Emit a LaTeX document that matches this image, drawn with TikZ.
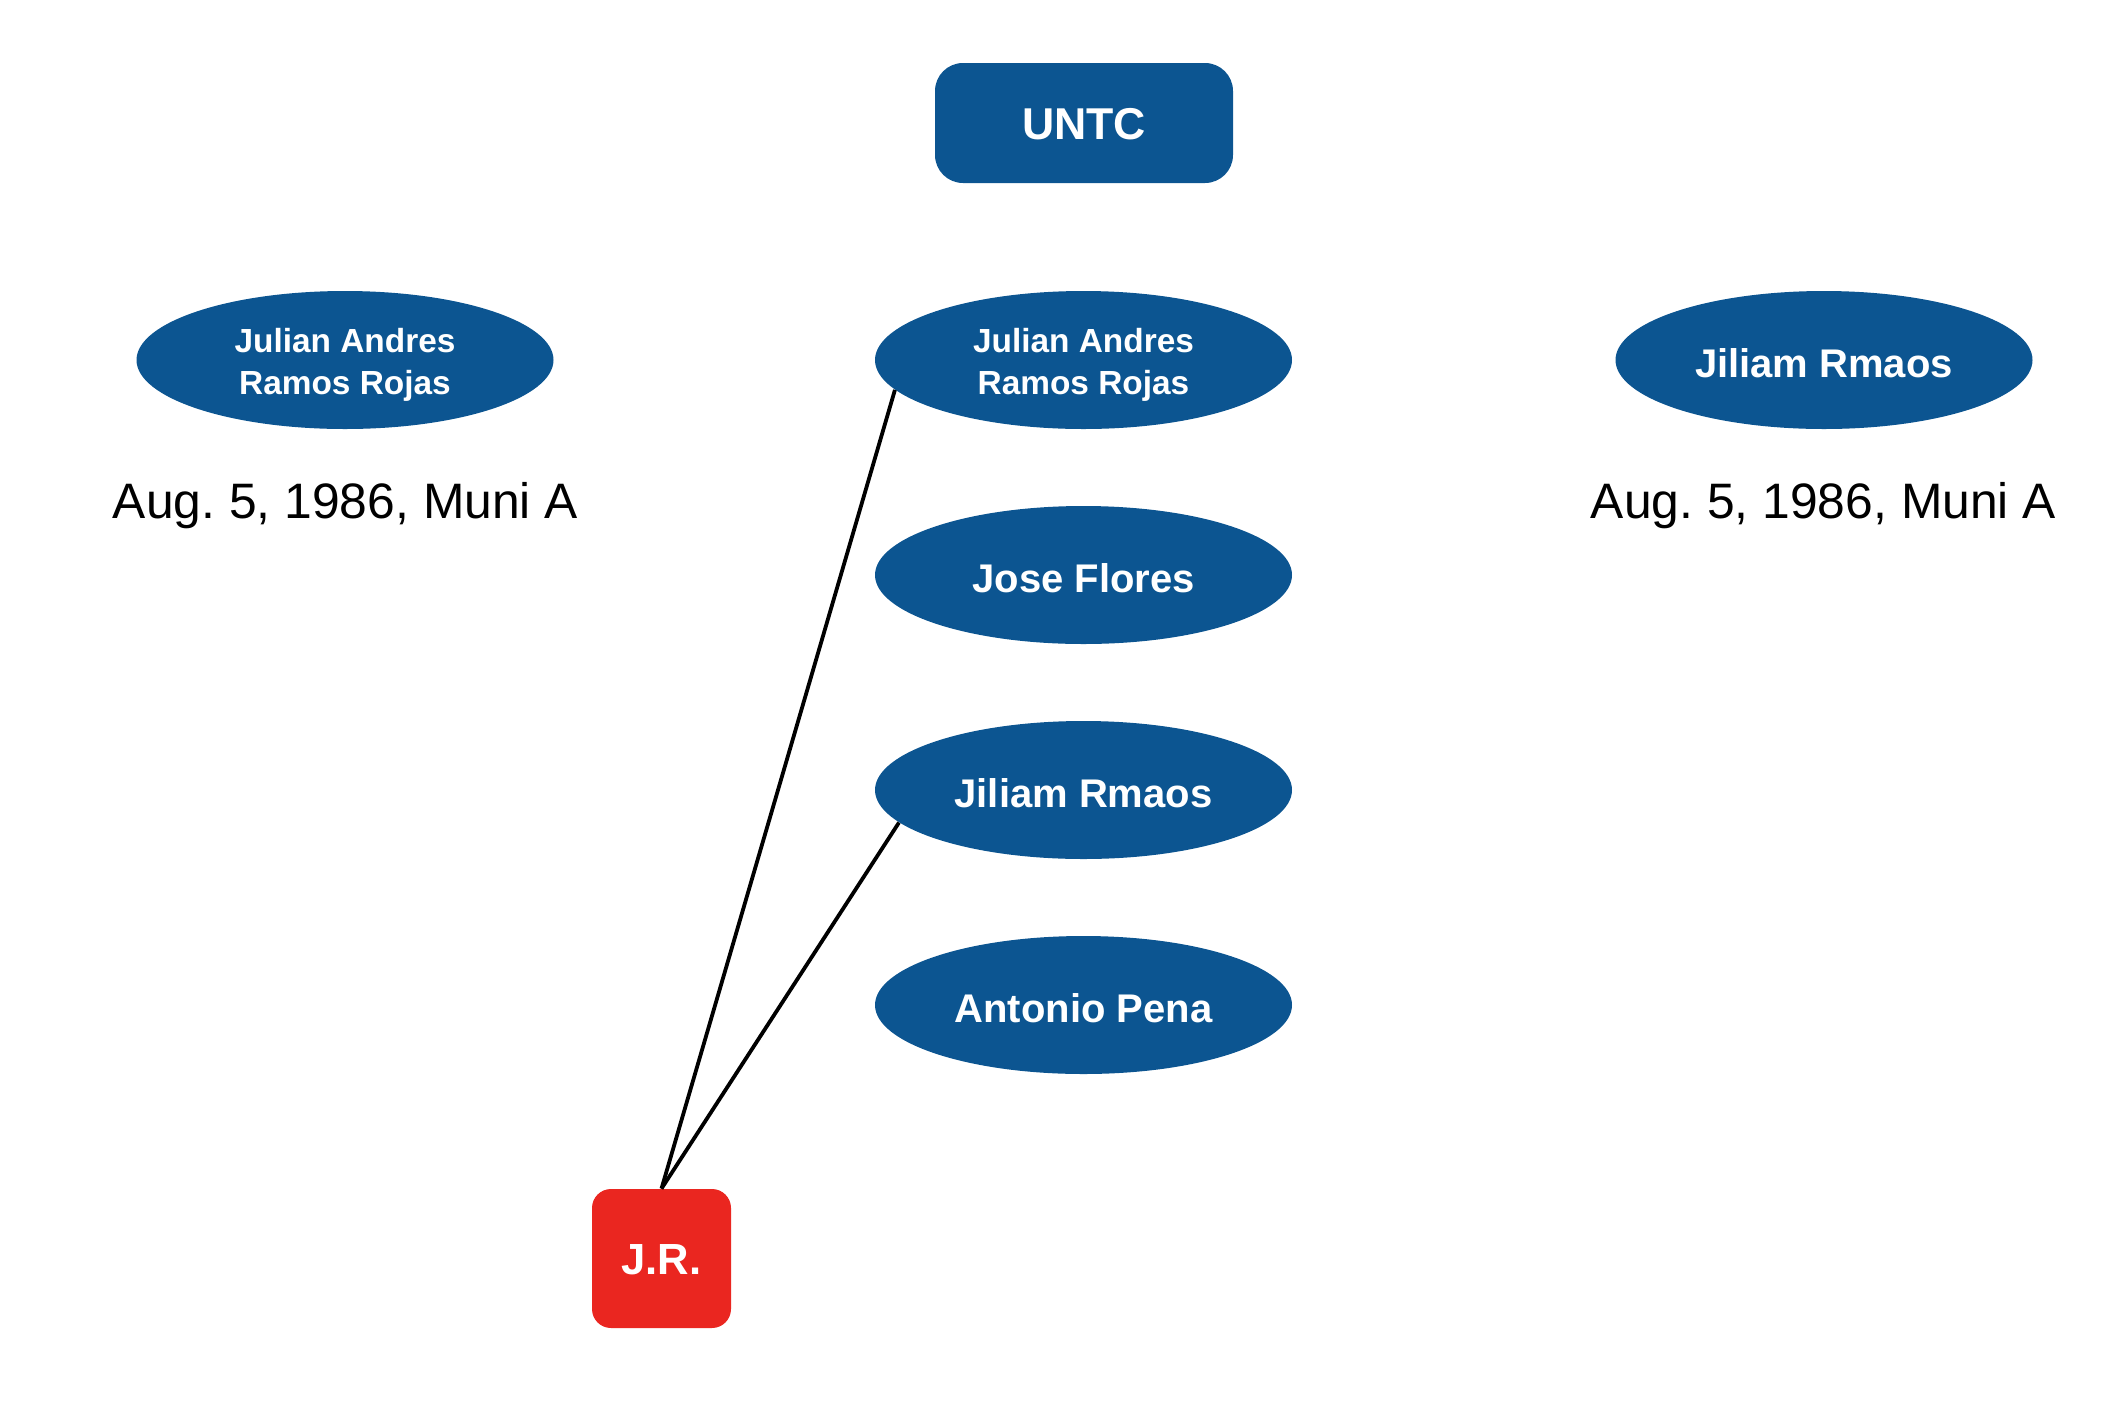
\documentclass[tikz,border=0pt]{standalone}
\usepackage{fontspec}
\setmainfont{Liberation Sans}
\usetikzlibrary{shapes.geometric}
\definecolor{nodeblue}{HTML}{0C5591}
\definecolor{jrred}{HTML}{EA2620}
\frenchspacing
\newcommand{\lowertext}[2]{\raisebox{-#1}[\height][\depth]{#2}}
\newcommand{\twolines}[2]{\lowertext{2.3pt}{\begin{tabular}{@{}c@{}}#1\\#2\end{tabular}}}
\begin{document}
\begin{tikzpicture}[x=0.5pt,y=-0.5pt,
  person/.style={ellipse, fill=nodeblue, text=white, inner sep=0pt,
    minimum width=208.5pt, minimum height=69pt,
    font=\bfseries\fontsize{20}{24}\selectfont},
  twoline/.style={font=\bfseries\fontsize{16.7}{21}\selectfont},
  orgbox/.style={rectangle, rounded corners=14pt, fill=nodeblue, text=white,
    inner sep=0pt, minimum width=149pt, minimum height=60pt,
    font=\bfseries\fontsize{22.3}{26}\selectfont},
  jrbox/.style={rectangle, rounded corners=9.5pt, fill=jrred, text=white,
    inner sep=0pt, minimum width=69.5pt, minimum height=69.5pt,
    font=\bfseries\fontsize{21.8}{26}\selectfont},
  datelabel/.style={anchor=base, inner sep=0pt,
    font=\fontsize{24.9}{30}\selectfont},
  link/.style={line width=1.9pt, black}]
\useasboundingbox (0,0) rectangle (2122,1404);

\node[orgbox] (untc) at (1084,123) {\lowertext{0.7pt}{UNTC}};

\node[person, twoline] (jal) at (345,360) {\twolines{Julian Andres}{Ramos Rojas}};
\node[datelabel] (datel) at (345.5,518) {Aug. 5, 1986, Muni A};

\node[person] (jrr) at (1824,360) {\lowertext{1.5pt}{Jiliam Rmaos}};
\node[datelabel] (dater) at (1823.5,518) {Aug. 5, 1986, Muni A};

\node[person, twoline] (jac) at (1083.5,360) {\twolines{Julian Andres}{Ramos Rojas}};
\node[person] (jf) at (1083.5,575) {\lowertext{1.5pt}{Jose Flores}};
\node[person] (jrc) at (1083.5,790) {\lowertext{1.5pt}{Jiliam Rmaos}};
\node[person] (ap) at (1083.5,1005) {\lowertext{1.5pt}{Antonio Pena}};

\node[jrbox] (jr) at (661.5,1258.5) {\lowertext{0.7pt}{J.R.}};

\draw[link] (jr.north) -- (jac.189);
\draw[link] (jr.north) -- (jrc.190);
\end{tikzpicture}
\end{document}
